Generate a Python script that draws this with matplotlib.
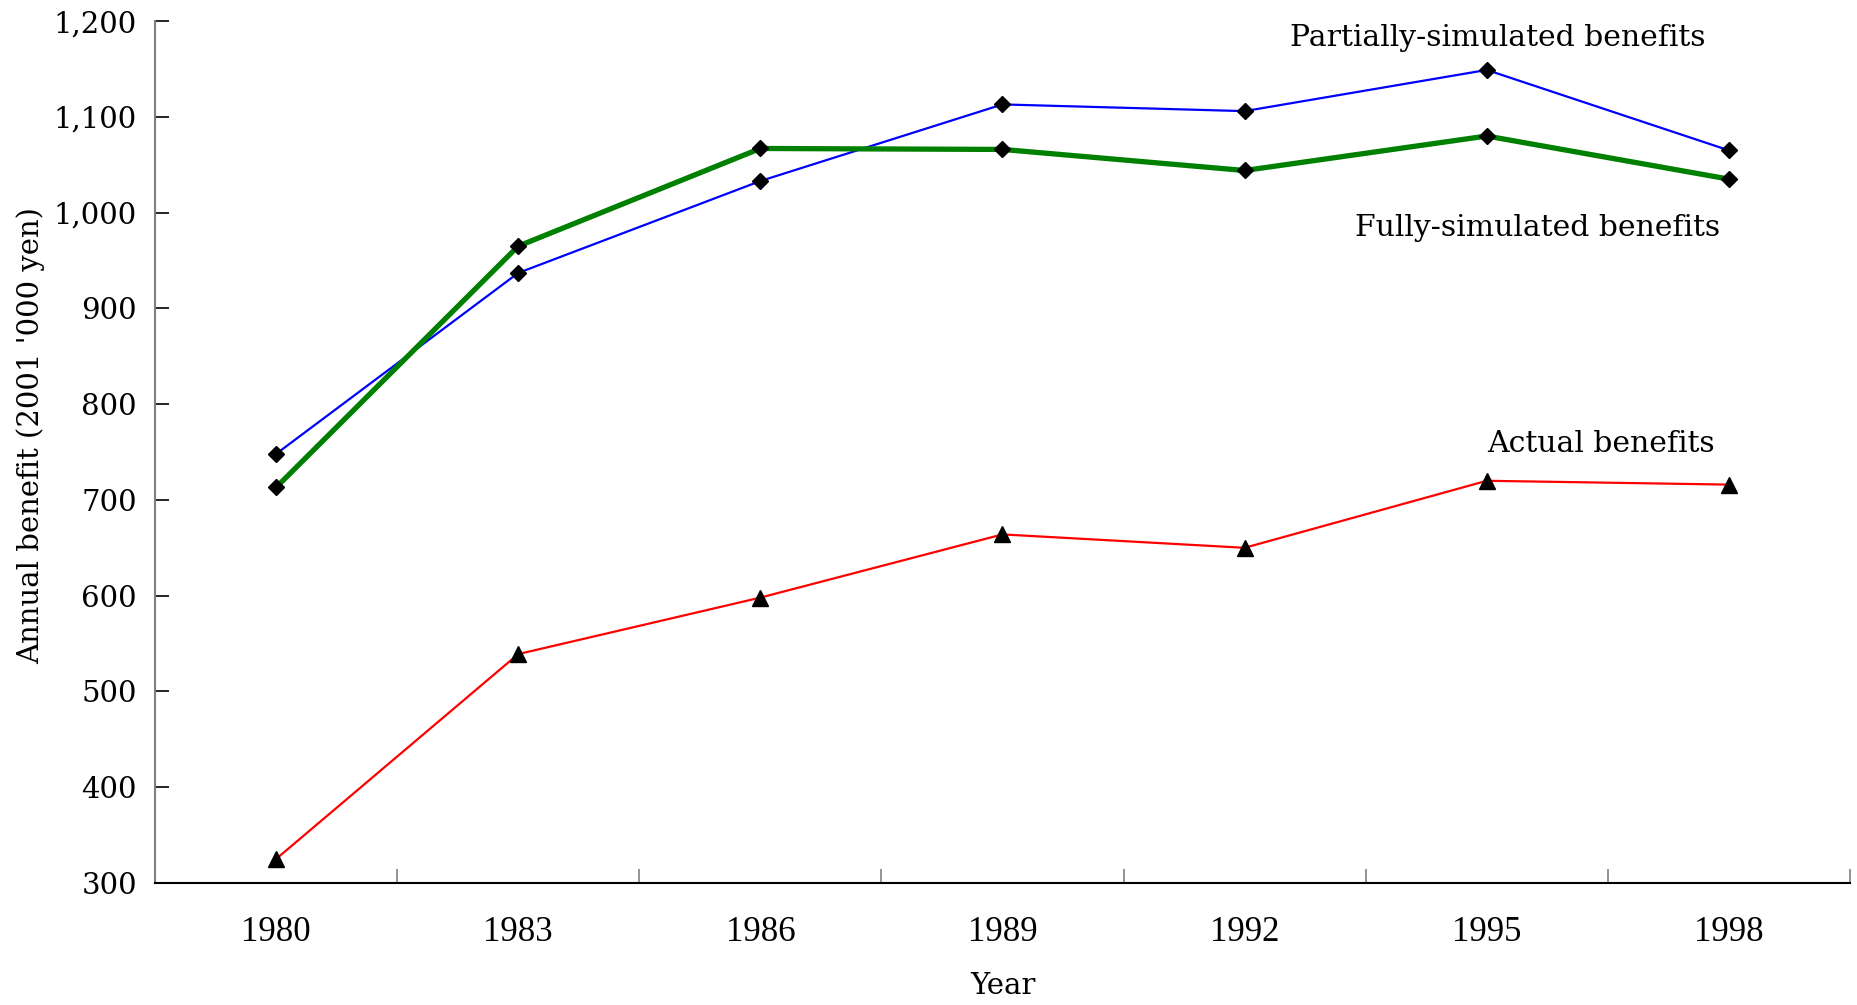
import numpy as np
import matplotlib.pyplot as plt

# Data
years = ['1980', '1983', '1986', '1989', '1992', '1995', '1998']
partial = [748, 937, 1033, 1113, 1106, 1149, 1065]
fully = [713, 965, 1067, 1066, 1044, 1080, 1035]
actual = [325, 539, 598, 664, 650, 720, 716]
yticks = [300, 400, 500, 600, 700, 800, 900, 1000, 1100, 1200]

plt.rcParams['font.family'] = ['DejaVu Serif']

fig = plt.figure(figsize=(18.58, 10.05), dpi=100)
ax = fig.add_axes([0.0834, 0.1214, 0.9123, 0.8576])

x = np.arange(len(years))

# Lines with black markers
ax.plot(x, partial, color='#0000ff', lw=1.6, marker='D', ms=8,
        mfc='black', mec='black', zorder=3)
ax.plot(x, fully, color='#008000', lw=3.8, marker='D', ms=8,
        mfc='black', mec='black', zorder=4)
ax.plot(x, actual, color='#ff0000', lw=1.6, marker='^', ms=11,
        mfc='black', mec='black', zorder=3)

# Labels next to lines
ax.text(5.045, 1182, 'Partially-simulated benefits', ha='center', va='center', fontsize=21.5)
ax.text(5.21, 984, 'Fully-simulated benefits', ha='center', va='center', fontsize=21.5)
ax.text(5.47, 758, 'Actual benefits', ha='center', va='center', fontsize=21.5)

ax.set_xlim(-0.5, len(years) - 0.5)
ax.set_ylim(300, 1200)

# y axis
ax.set_yticks(yticks)
ax.set_yticklabels(['{:,}'.format(v) for v in yticks], fontsize=21)
ax.tick_params(axis='y', direction='in', length=10, width=1.2, pad=13, color='black')

# x axis: labels at category centers, tick marks at boundaries
ax.set_xticks(x)
ax.set_xticklabels(years, fontsize=25, family='Liberation Serif')
ax.set_xticks(np.arange(-0.5, len(years) + 0.5, 1), minor=True)
ax.tick_params(axis='x', which='major', length=0, pad=24)
ax.tick_params(axis='x', which='minor', direction='in', length=10, width=1.2, color='#808080')

ax.spines['top'].set_visible(False)
ax.spines['right'].set_visible(False)
ax.spines['left'].set_color('#808080')
ax.spines['left'].set_linewidth(1.5)
ax.spines['bottom'].set_color('black')
ax.spines['bottom'].set_linewidth(1.5)

ax.set_ylabel("Annual benefit (2001 '000 yen)", fontsize=21, labelpad=6)
ax.yaxis.label.set_y(0.519)
ax.set_xlabel('Year', fontsize=21, labelpad=16)

fig.savefig('out.png', dpi=100)
